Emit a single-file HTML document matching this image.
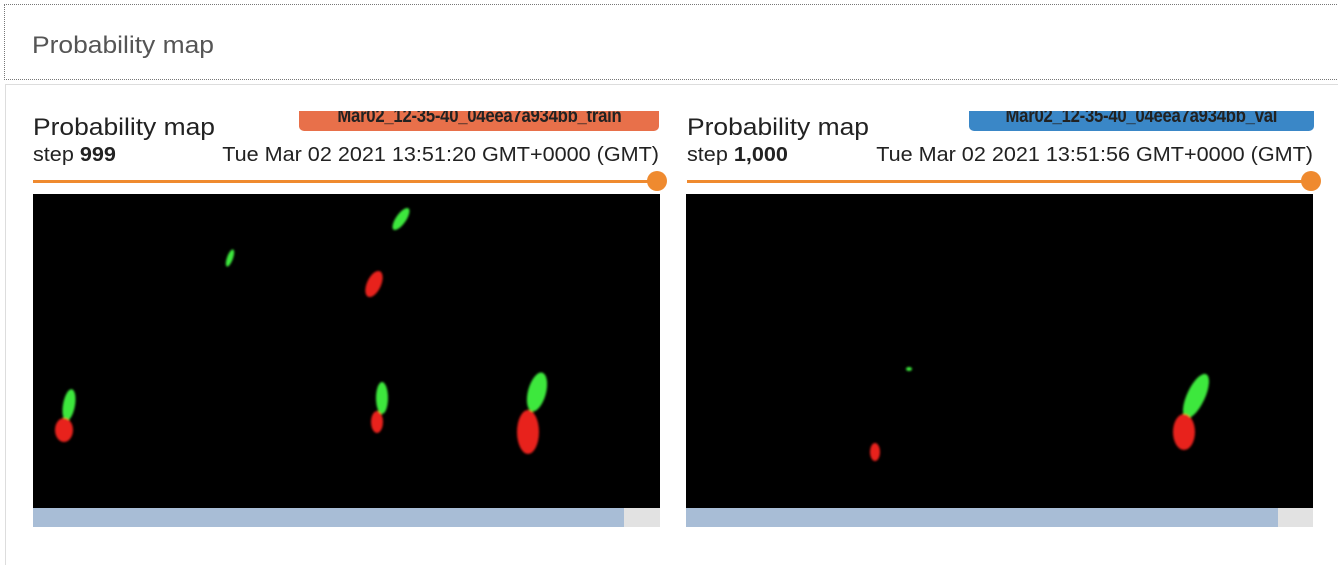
<!DOCTYPE html>
<html><head><meta charset="utf-8"><style>
body{margin:0;width:1338px;height:564px;background:#fff;font-family:"Liberation Sans",sans-serif;overflow:hidden;position:relative}
.abs{position:absolute}
.hdr{left:4px;top:4px;width:1340px;height:74px;border:1px dotted #777;border-right:none;background:#fff}
.hdr span{position:absolute;left:27px;top:27px;font-size:24px;color:#555;transform:scaleX(1.1);transform-origin:left}
.body{left:5px;top:84px;width:1340px;height:480px;border-left:1px solid #ddd;border-top:1px solid #ddd}
.title{font-size:24px;color:#222;transform:scaleX(1.1);transform-origin:left}
.step{font-size:20px;color:#222;transform:scaleX(1.08);transform-origin:left}
.ts{font-size:20px;color:#222;transform:scaleX(1.08);transform-origin:right;text-align:right;width:500px}
.tag{height:20px;border-radius:0 0 5px 5px;color:#222;font-size:19px;line-height:12px;text-align:center;overflow:hidden;font-weight:bold;letter-spacing:-0.3px}
.tag span{display:inline-block;transform:scaleX(0.88)}
</style></head><body>
<div class="abs hdr"><span>Probability map</span></div>
<div class="abs body"></div>

<div class="abs tag" style="left:299px;top:111px;width:360px;background:#e8704a"><span>Mar02_12-35-40_04eea7a934bb_train</span></div>
<div class="abs title" style="left:33px;top:114px">Probability map</div>
<div class="abs step" style="left:33px;top:144px">step <b>999</b></div>
<div class="abs ts" style="left:159px;top:144px">Tue Mar 02 2021 13:51:20 GMT+0000 (GMT)</div>
<div class="abs" style="left:33px;top:180px;width:622px;height:3px;background:#ef8a2f"></div>
<div class="abs" style="left:647px;top:171px;width:20px;height:20px;border-radius:50%;background:#ef8a2f"></div>
<svg class="abs" style="left:33px;top:194px" width="627" height="314">
<defs><filter id="b"><feGaussianBlur stdDeviation="1"/></filter></defs>
<rect width="627" height="314" fill="#000"/>
<g filter="url(#b)">
<g fill="#3ee83e"><ellipse cx="368" cy="25" rx="5" ry="13" transform="rotate(35 368 25)"/><ellipse cx="197" cy="64" rx="3" ry="9" transform="rotate(20 197 64)"/><ellipse cx="36" cy="211" rx="6" ry="16" transform="rotate(10 36 211)"/><ellipse cx="349" cy="204" rx="6" ry="16"/><ellipse cx="504" cy="198" rx="9" ry="20" transform="rotate(15 504 198)"/></g>
<g fill="#e8231c"><ellipse cx="341" cy="90" rx="7" ry="14" transform="rotate(25 341 90)"/><ellipse cx="31" cy="236" rx="9" ry="12"/><ellipse cx="344" cy="228" rx="6" ry="11"/><ellipse cx="495" cy="238" rx="11" ry="22"/></g>
</g></svg>
<div class="abs" style="left:33px;top:508px;width:591px;height:19px;background:#a8bdd6"></div>
<div class="abs" style="left:624px;top:508px;width:36px;height:19px;background:#e2e2e2"></div>

<div class="abs tag" style="left:969px;top:111px;width:345px;background:#3a87c7"><span>Mar02_12-35-40_04eea7a934bb_val</span></div>
<div class="abs title" style="left:687px;top:114px">Probability map</div>
<div class="abs step" style="left:687px;top:144px">step <b>1,000</b></div>
<div class="abs ts" style="left:813px;top:144px">Tue Mar 02 2021 13:51:56 GMT+0000 (GMT)</div>
<div class="abs" style="left:687px;top:180px;width:622px;height:3px;background:#ef8a2f"></div>
<div class="abs" style="left:1301px;top:171px;width:20px;height:20px;border-radius:50%;background:#ef8a2f"></div>
<svg class="abs" style="left:686px;top:194px" width="627" height="314">
<rect width="627" height="314" fill="#000"/>
<g filter="url(#b)">
<g fill="#3ee83e"><ellipse cx="510" cy="202" rx="9" ry="24" transform="rotate(25 510 202)"/><ellipse cx="223" cy="175" rx="3" ry="2"/></g>
<g fill="#e8231c"><ellipse cx="498" cy="238" rx="11" ry="18"/><ellipse cx="189" cy="258" rx="5" ry="9"/></g>
</g></svg>
<div class="abs" style="left:686px;top:508px;width:592px;height:19px;background:#a8bdd6"></div>
<div class="abs" style="left:1278px;top:508px;width:35px;height:19px;background:#e2e2e2"></div>
</body></html>
